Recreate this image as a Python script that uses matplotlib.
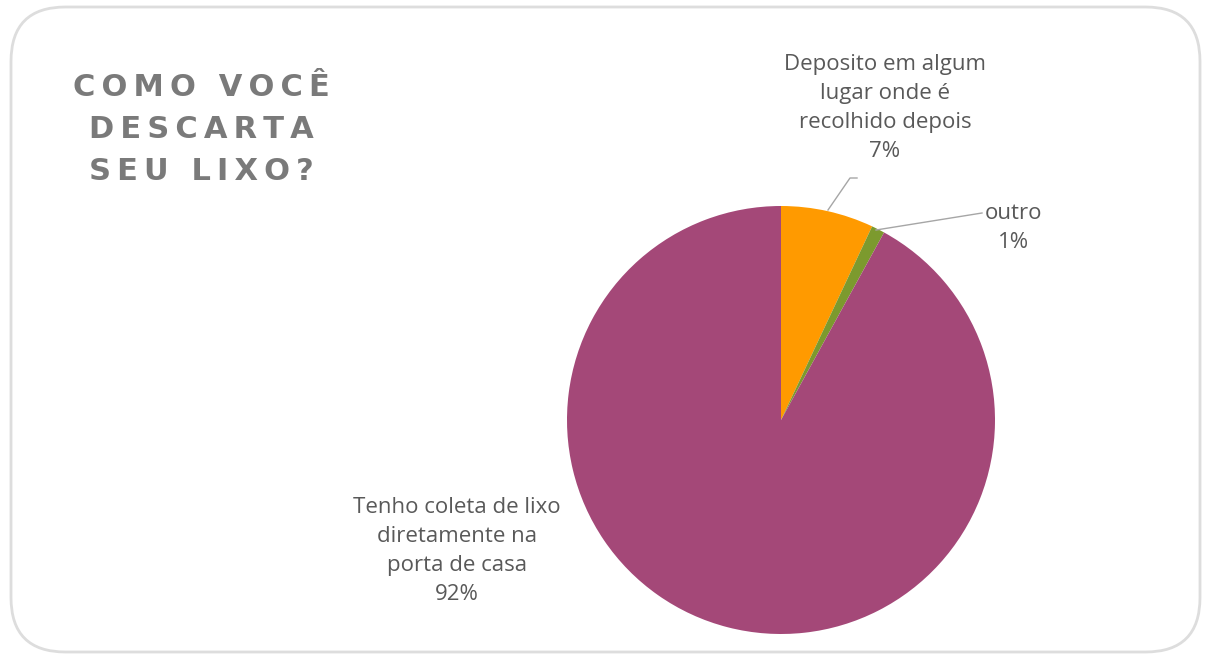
import matplotlib
matplotlib.use("Agg")
import matplotlib.pyplot as plt
from matplotlib.patches import FancyBboxPatch
from matplotlib.lines import Line2D

categories = ["Tenho coleta de lixo\ndiretamente na\nporta de casa",
              "Deposito em algum\nlugar onde é\nrecolhido depois",
              "outro"]
values = [92, 7, 1]
pct_labels = ["92%", "7%", "1%"]
colors = ["#A44878", "#FF9A00", "#7C9A2E"]
title_lines = ["COMO VOCÊ", "DESCARTA", "SEU LIXO?"]

W, H = 1211, 666
fig = plt.figure(figsize=(W / 100, H / 100), dpi=100)
fig.patch.set_facecolor("white")

# rounded border
border = FancyBboxPatch((11 / W, 14 / H), (1200 - 11) / W, (659 - 14) / H,
                        boxstyle="round,pad=0,rounding_size=0.045",
                        transform=fig.transFigure, facecolor="none",
                        edgecolor="#DDDDDD", linewidth=2.0, mutation_aspect=W / H,
                        zorder=-1)
fig.patches.append(border)

cx, cy, r = 781, 420, 214
ax = fig.add_axes([(cx - r) / W, (H - cy - r) / H, 2 * r / W, 2 * r / H])
ax.patch.set_alpha(0)
# order: start at top, clockwise: Deposito, outro, Tenho
order = [1, 2, 0]
ax.pie([values[i] for i in order], colors=[colors[i] for i in order],
       startangle=90, counterclock=False, radius=1,
       wedgeprops=dict(linewidth=0))
ax.set_xlim(-1, 1)
ax.set_ylim(-1, 1)
ax.set_aspect("equal")
ax.axis("off")

def fx(x):
    return x / W

def fy(y):
    return 1 - y / H

# title with letter spacing
tcol = "#7A7A7A"
for i, line in enumerate(title_lines):
    spaced = "\u2009".join(line)
    fig.text(fx(201), fy(88 + i * 42), spaced, ha="center", va="center",
             fontsize=22, fontweight="bold", color=tcol,
             family=["DejaVu Sans"])

lcol = "#595959"
lfont = dict(fontsize=16, color=lcol, family=["Open Sans", "DejaVu Sans"],
             ha="center", va="center", linespacing=1.48)

fig.text(fx(885), fy(108), categories[1] + "\n" + pct_labels[1], **lfont)
fig.text(fx(1013), fy(228), categories[2] + "\n" + pct_labels[2], **lfont)
fig.text(fx(457), fy(551), categories[0] + "\n" + pct_labels[0], **lfont)

# leader lines
gcol = "#A6A6A6"
fig.add_artist(Line2D([fx(828), fx(850), fx(857)], [fy(210), fy(178), fy(178)],
                      color=gcol, linewidth=1.0))
fig.add_artist(Line2D([fx(876), fx(982)], [fy(230), fy(213)],
                      color=gcol, linewidth=1.0))

fig.savefig("out.png", dpi=100, facecolor="white")
